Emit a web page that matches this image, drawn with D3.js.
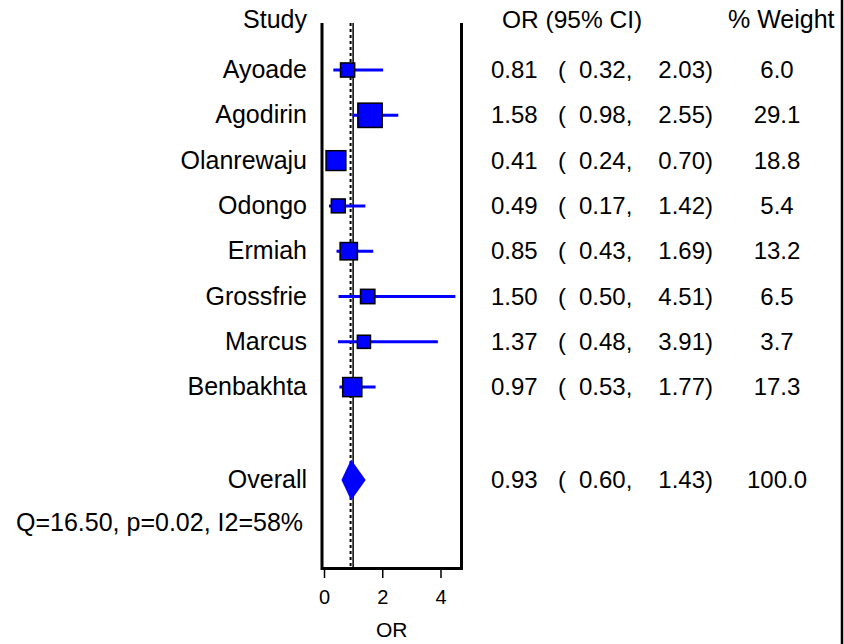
<!DOCTYPE html>
<html>
<head>
<meta charset="utf-8">
<script src="https://cdn.jsdelivr.net/npm/d3@7"></script>
<style>
  html, body { margin: 0; padding: 0; background: #fff; }
  svg { display: block; }
  text { font-family: "Liberation Sans", Arial, sans-serif; fill: #000; }
</style>
</head>
<body>
<svg id="chart" width="844" height="644"></svg>
<script>
// ---- data ----
const studies  = ["Ayoade", "Agodirin", "Olanrewaju", "Odongo", "Ermiah", "Grossfrie", "Marcus", "Benbakhta"];
const orValues = [0.81, 1.58, 0.41, 0.49, 0.85, 1.50, 1.37, 0.97];
const ciLower  = [0.32, 0.98, 0.24, 0.17, 0.43, 0.50, 0.48, 0.53];
const ciUpper  = [2.03, 2.55, 0.70, 1.42, 1.69, 4.51, 3.91, 1.77];
const weights  = [6.0, 29.1, 18.8, 5.4, 13.2, 6.5, 3.7, 17.3];
const overall  = { label: "Overall", or: 0.93, lo: 0.60, hi: 1.43, weight: 100.0 };
const heterogeneity = "Q=16.50, p=0.02, I2=58%";
const xTicks = [0, 2, 4];
const headers = { study: "Study", ci: "OR (95% CI)", weight: "% Weight", axis: "OR" };

// ---- scales ----
const svg = d3.select("#chart");
const x = d3.scaleLinear().domain([0, 4]).range([324, 440.5]);
const row = d3.scaleLinear().domain([0, 1]).range([78, 123.3]); // text baselines
const side = d3.scaleLinear().domain([0, 29.1]).range([11.5, 24.3]);
const fmt = d3.format(".2f");
const fmtW = d3.format(".1f");

const frameLeft = x.invert(322);
const frameRight = x.invert(461.5);
const frameTop = 23, frameBottom = 568.5;
const overallRow = 9.05, statsRow = 10, headerRow = -1.1;

const data = studies.map((s, i) => ({ name: s, or: orValues[i], lo: ciLower[i], hi: ciUpper[i], w: weights[i], i }));

const fsLabel = 25, fsNum = 24, fsAxis = 20;

// ---- right window border ----
svg.append("line").attr("x1", 842).attr("x2", 842).attr("y1", 0).attr("y2", 644)
  .attr("stroke", "#000").attr("stroke-width", 2.5);

// ---- frame ----
const frame = svg.append("g");
frame.append("path")
  .attr("d", `M${x(frameLeft)},${frameTop}V${frameBottom}H${x(frameRight)}V${frameTop}`)
  .attr("fill", "none").attr("stroke", "#000").attr("stroke-width", 3);

// null line (solid) and overall line (dashed)
frame.append("line").attr("x1", x(1)).attr("x2", x(1)).attr("y1", frameTop).attr("y2", frameBottom)
  .attr("stroke", "#000").attr("stroke-width", 1.5);
frame.append("line").attr("x1", x(overall.or) - 0.5).attr("x2", x(overall.or) - 0.5).attr("y1", frameTop).attr("y2", frameBottom)
  .attr("stroke", "#000").attr("stroke-width", 2).attr("stroke-dasharray", "3,3");

// ---- axis ----
const axis = svg.append("g").attr("transform", `translate(0,${frameBottom + 1.5})`)
  .call(d3.axisBottom(x).tickValues(xTicks).tickSize(8).tickPadding(12).tickFormat(d3.format("d")));
axis.select(".domain").remove();
axis.selectAll(".tick line").attr("stroke", "#000").attr("stroke-width", 1.5);
axis.selectAll(".tick text").attr("font-size", fsAxis).attr("font-family", "Liberation Sans, Arial, sans-serif").attr("fill", "#000");

svg.append("text").attr("x", (x(frameLeft) + x(frameRight)) / 2).attr("y", 637)
  .attr("text-anchor", "middle").attr("font-size", 21).text(headers.axis);

// ---- headers ----
svg.append("text").attr("x", 307).attr("y", row(headerRow)).attr("text-anchor", "end").attr("font-size", fsLabel).text(headers.study);
svg.append("text").attr("x", 502).attr("y", row(headerRow)).attr("font-size", fsLabel - 0.5).text(headers.ci);
svg.append("text").attr("x", 728).attr("y", row(headerRow)).attr("font-size", fsLabel).text(headers.weight);

// ---- CI lines and boxes ----
const g = svg.append("g");
g.selectAll("line.ci").data(data).join("line").attr("class", "ci")
  .attr("x1", d => x(d.lo)).attr("x2", d => x(d.hi))
  .attr("y1", d => row(d.i) - 8).attr("y2", d => row(d.i) - 8)
  .attr("stroke", "#0000ff").attr("stroke-width", 3);
g.selectAll("rect.box").data(data).join("rect").attr("class", "box")
  .attr("x", d => x(d.or) - side(d.w) / 2).attr("y", d => row(d.i) - 8 - side(d.w) / 2)
  .attr("width", d => side(d.w)).attr("height", d => side(d.w))
  .attr("fill", "#0000ff").attr("stroke", "#000").attr("stroke-width", 1.5);

// overall diamond
const oy = row(overallRow) - 8;
svg.append("path")
  .attr("d", `M${x(overall.lo)},${oy}L${x(overall.or)},${oy - 20.5}L${x(overall.hi)},${oy}L${x(overall.or)},${oy + 20.5}Z`)
  .attr("fill", "#0000ff");

// ---- text columns ----
function textRow(name, orv, lo, hi, w, r) {
  const y = row(r);
  svg.append("text").attr("x", 307).attr("y", y).attr("text-anchor", "end").attr("font-size", fsLabel).text(name);
  svg.append("text").attr("x", 491).attr("y", y).attr("font-size", fsNum).text(fmt(orv));
  svg.append("text").attr("x", 558).attr("y", y).attr("font-size", fsNum).text("(");
  svg.append("text").attr("x", 579).attr("y", y).attr("font-size", fsNum).text(fmt(lo) + ",");
  svg.append("text").attr("x", 713).attr("y", y).attr("text-anchor", "end").attr("font-size", fsNum).text(fmt(hi) + ")");
  svg.append("text").attr("x", 777).attr("y", y).attr("text-anchor", "middle").attr("font-size", fsNum).text(fmtW(w));
}
data.forEach(d => textRow(d.name, d.or, d.lo, d.hi, d.w, d.i));
textRow(overall.label, overall.or, overall.lo, overall.hi, overall.weight, overallRow);

svg.append("text").attr("x", 16).attr("y", row(statsRow)).attr("font-size", fsLabel).text(heterogeneity);
</script>
</body>
</html>
